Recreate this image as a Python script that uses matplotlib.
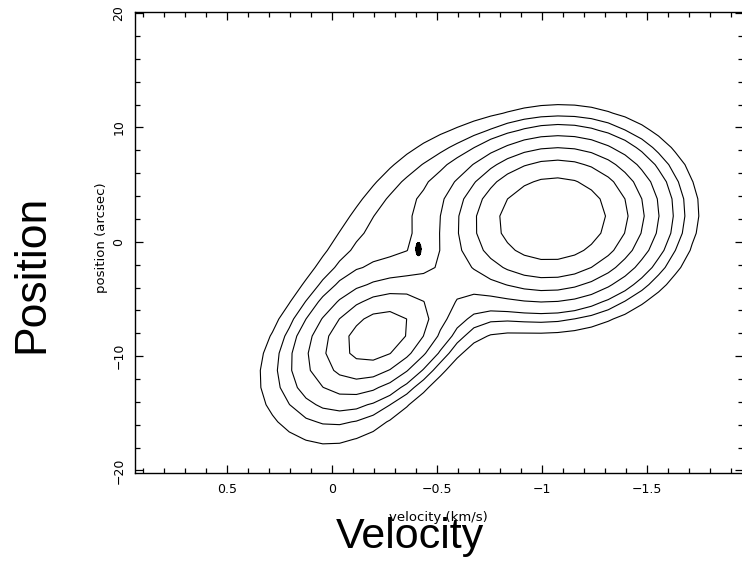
import numpy as np
import matplotlib
matplotlib.use('Agg')
import matplotlib.pyplot as plt
from matplotlib.ticker import MultipleLocator

# emission components
# centre velocity (km/s), centre position (arcsec), widths, v-p correlation, peak
COMP_VEL = [-1.05, -0.24, 0.03, -0.15, -0.41]
COMP_POS = [2.0, -8.0, -13.5, 0.5, -0.6]
COMP_SIGV = [0.35, 0.23, 0.30, 0.27, 0.011]
COMP_SIGP = [5.0, 3.5, 5.0, 6.2, 0.5]
COMP_RHO = [-0.06, -0.3, 0.0, -0.74, 0.0]
COMP_AMP = [1.0, 0.60, 0.18, 0.15, 0.13]
KNOT = 4  # tiny knot near the saddle, needs a fine grid

LEVELS = [0.14, 0.20, 0.26, 0.35, 0.46, 0.59, 0.77]

XTICKS = [0.5, 0, -0.5, -1, -1.5]
XTICKLABELS = ['0.5', '0', '\u22120.5', '\u22121', '\u22121.5']
YTICKS = [-20, -10, 0, 10, 20]
YTICKLABELS = ['\u221220', '\u221210', '0', '10', '20']

VEL_RANGE = (0.94, -1.955)
POS_RANGE = (-20.25, 20.1)
DV = 0.08   # channel width
DP = 1.5    # spatial pixel


def field(v, p, comps):
    tot = np.zeros_like(v)
    for i in comps:
        dx = (v - COMP_VEL[i]) / COMP_SIGV[i]
        dy = (p - COMP_POS[i]) / COMP_SIGP[i]
        r = COMP_RHO[i]
        q = (dx**2 - 2*r*dx*dy + dy**2) / (1 - r**2)
        tot += COMP_AMP[i] * np.exp(-0.5*q)
    return tot


W, H = 742, 565
fig = plt.figure(figsize=(W/100, H/100), dpi=100)
ax = fig.add_axes((135/W, 1 - 473.3/H, 607.5/W, 461.3/H))

vv, pp = np.meshgrid(np.arange(VEL_RANGE[1], VEL_RANGE[0] + DV, DV),
                     np.arange(POS_RANGE[0], POS_RANGE[1] + DP, DP))
big = [i for i in range(len(COMP_AMP)) if i != KNOT]
ax.contour(vv, pp, field(vv, pp, big), levels=LEVELS, colors='black',
           linewidths=0.8)

# the knot, on a fine local grid
kv, kp = np.meshgrid(np.linspace(COMP_VEL[KNOT] - 0.03, COMP_VEL[KNOT] + 0.03, 60),
                     np.linspace(COMP_POS[KNOT] - 1.2, COMP_POS[KNOT] + 1.2, 60))
kf = field(kv, kp, range(len(COMP_AMP)))
ax.contourf(kv, kp, kf, levels=[LEVELS[3], 10], colors='black')
ax.contour(kv, kp, kf, levels=[LEVELS[3]], colors='black', linewidths=0.8)

ax.set_xlim(VEL_RANGE)
ax.set_ylim(POS_RANGE)
ax.set_xticks(XTICKS)
ax.set_xticklabels(XTICKLABELS)
ax.set_yticks(YTICKS)
ax.set_yticklabels(YTICKLABELS, rotation=90, va='center')
ax.xaxis.set_minor_locator(MultipleLocator(0.1))
ax.yaxis.set_minor_locator(MultipleLocator(2))
ax.tick_params(which='both', direction='in', top=True, right=True,
               width=0.9, labelsize=9)
ax.tick_params(which='major', length=6)
ax.tick_params(which='minor', length=3.5)
ax.tick_params(axis='x', pad=7)
ax.tick_params(axis='y', pad=7)
for s in ax.spines.values():
    s.set_linewidth(1.0)

ax.set_xlabel('velocity (km/s)', fontsize=9.5, va='baseline')
ax.xaxis.set_label_coords(0.5, (473.3 - 521) / 461.3)
ax.set_ylabel('position (arcsec)', fontsize=9.5, va='baseline')
ax.yaxis.set_label_coords((105.5 - 135) / 607.5, (473.3 - 237.5) / 461.3)

# big overlaid captions
fig.text(409.5/W, 1 - 548/H, 'Velocity', fontsize=31, ha='center',
         va='baseline', family='Liberation Sans')
fig.text(43.5/W, 1 - 273.5/H, 'Position', fontsize=32, ha='center',
         va='baseline', rotation=90, rotation_mode='anchor',
         family='Liberation Sans')

fig.savefig('out.png', dpi=100)
